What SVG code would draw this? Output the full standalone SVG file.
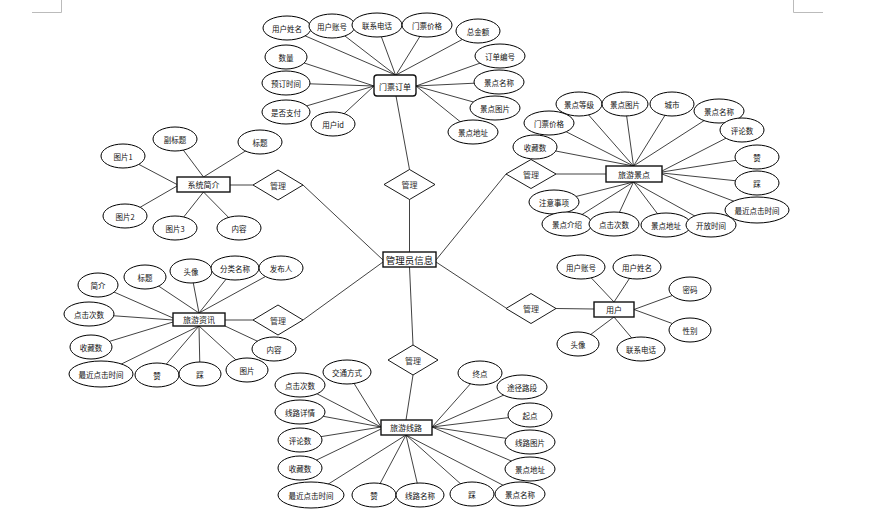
<svg xmlns="http://www.w3.org/2000/svg" width="875" height="514" viewBox="0 0 875 514">
<style>
text{font-family:"Noto Sans CJK SC","Noto Sans",sans-serif;fill:#111;text-anchor:middle;dominant-baseline:central}
.a ellipse{fill:#fff;stroke:#000;stroke-width:1}
.a text{font-size:7.5px}
.e rect{fill:#fff;stroke:#111;stroke-width:1.4}
.e text{font-size:8px}
.r polygon{fill:#fff;stroke:#000;stroke-width:0.9}
.r text{font-size:8px;fill:#333}
#conn line{stroke:#111;stroke-width:0.8}
.pg{stroke:#bbb;stroke-width:1;fill:none}
</style>
<rect width="875" height="514" fill="#fff"/>
<path class="pg" d="M32,12.5H61.5V0M793.5,0V12.5H823"/>
<g id="conn">
<line x1="287" y1="28" x2="395.5" y2="75"/><line x1="332" y1="26" x2="395.5" y2="75"/><line x1="377" y1="25" x2="395.5" y2="75"/><line x1="427" y1="25" x2="396" y2="75"/><line x1="478" y1="31" x2="396" y2="75"/>
<line x1="286" y1="57" x2="374" y2="86"/><line x1="286" y1="83" x2="374" y2="86"/><line x1="286" y1="112" x2="374" y2="86"/><line x1="333" y1="124" x2="374" y2="86"/>
<line x1="500" y1="56" x2="416" y2="86"/><line x1="499" y1="82" x2="416" y2="86"/><line x1="495" y1="108" x2="416" y2="86"/><line x1="473" y1="132" x2="416" y2="86"/>
<line x1="396" y1="96" x2="409.5" y2="169.5"/><line x1="409.5" y1="199.5" x2="409.5" y2="252"/>
<line x1="579" y1="104" x2="633.5" y2="166"/><line x1="625" y1="104" x2="633.5" y2="166"/><line x1="672" y1="104" x2="633.5" y2="166"/><line x1="719" y1="111" x2="633.5" y2="166"/><line x1="549" y1="123" x2="633.5" y2="166"/><line x1="535" y1="147" x2="633.5" y2="166"/>
<line x1="742" y1="130" x2="662" y2="171"/><line x1="757" y1="157" x2="662" y2="172"/><line x1="757" y1="183" x2="662" y2="173"/><line x1="757" y1="210" x2="662" y2="174"/>
<line x1="554" y1="202" x2="633.5" y2="182"/><line x1="567" y1="224" x2="633.5" y2="182"/><line x1="614" y1="224" x2="633.5" y2="182"/><line x1="666" y1="225" x2="633.5" y2="182"/><line x1="711" y1="225" x2="633.5" y2="182"/>
<line x1="556" y1="174" x2="606" y2="174"/><line x1="436" y1="260" x2="506" y2="174"/>
<line x1="175" y1="139" x2="203.5" y2="177"/><line x1="260" y1="142" x2="203.5" y2="177"/><line x1="123" y1="156" x2="177" y2="184.5"/><line x1="125" y1="216" x2="177" y2="186"/><line x1="175" y1="228" x2="203.5" y2="192"/><line x1="239" y1="228" x2="203.5" y2="192"/>
<line x1="230" y1="185" x2="253" y2="185"/><line x1="303" y1="185" x2="383" y2="260"/>
<line x1="98" y1="285" x2="173" y2="318"/><line x1="89" y1="314" x2="173" y2="320"/><line x1="91" y1="347" x2="173" y2="322"/>
<line x1="145" y1="277" x2="199" y2="313"/><line x1="191" y1="271" x2="199" y2="313"/><line x1="235" y1="268" x2="199" y2="313"/><line x1="281" y1="268" x2="199" y2="313"/>
<line x1="101" y1="374" x2="199" y2="326"/><line x1="157" y1="375" x2="199" y2="326"/><line x1="200" y1="374" x2="199" y2="326"/><line x1="247" y1="370" x2="199" y2="326"/><line x1="274" y1="349" x2="225" y2="326"/>
<line x1="225" y1="320" x2="253" y2="320"/><line x1="303" y1="320" x2="383" y2="262"/>
<line x1="581" y1="267" x2="614" y2="302"/><line x1="637" y1="267" x2="614" y2="302"/><line x1="690" y1="289" x2="634" y2="309.5"/><line x1="690" y1="330" x2="634" y2="309.5"/><line x1="578" y1="344" x2="614" y2="317"/><line x1="641" y1="349" x2="614" y2="317"/>
<line x1="556" y1="308.5" x2="594" y2="309"/><line x1="436" y1="262" x2="506" y2="308"/>
<line x1="347" y1="372" x2="381" y2="427"/><line x1="300" y1="385" x2="381" y2="427"/><line x1="300" y1="412" x2="381" y2="427"/><line x1="300" y1="440" x2="381" y2="427"/><line x1="300" y1="468" x2="381" y2="429"/>
<line x1="311" y1="495" x2="406" y2="435"/><line x1="374" y1="495" x2="406" y2="435"/><line x1="420" y1="495" x2="406" y2="435"/><line x1="472" y1="494" x2="406" y2="435"/><line x1="520" y1="494" x2="406" y2="435"/>
<line x1="480" y1="373" x2="432" y2="427"/><line x1="522" y1="387" x2="432" y2="427"/><line x1="530" y1="415" x2="432" y2="427"/><line x1="530" y1="442" x2="432" y2="427"/><line x1="530" y1="469" x2="432" y2="427"/>
<line x1="409.5" y1="267" x2="413" y2="345"/><line x1="413" y1="375" x2="406" y2="420"/>
</g>
<g id="rel-order" class="r"><polygon points="409.5,169.5 435,184.5 409.5,199.5 384,184.5"/><text x="409.5" y="184.5">管理</text></g>
<g id="rel-spot" class="r"><polygon points="531,159.5 556,174 531,188.5 506,174"/><text x="531" y="174">管理</text></g>
<g id="rel-intro" class="r"><polygon points="278,170 303,185 278,200 253,185"/><text x="278" y="185">管理</text></g>
<g id="rel-news" class="r"><polygon points="278,305 303,320 278,335 253,320"/><text x="278" y="320">管理</text></g>
<g id="rel-user" class="r"><polygon points="531,293.5 556,308.5 531,323.5 506,308.5"/><text x="531" y="308.5">管理</text></g>
<g id="rel-route" class="r"><polygon points="413,345 438,360 413,375 388,360"/><text x="413" y="360">管理</text></g>
<g id="admin" class="e"><rect x="383" y="252" width="53" height="15"/><text x="409.5" y="260" style="font-size:9.5px">管理员信息</text></g>
<g id="order" class="e"><rect x="374" y="75" width="42" height="21" rx="3"/><text x="395" y="86">门票订单</text></g>
<g id="spot" class="e"><rect x="606" y="166" width="56" height="16"/><text x="634" y="174">旅游景点</text></g>
<g id="intro" class="e"><rect x="177" y="177" width="53" height="15"/><text x="203.5" y="184.5">系统简介</text></g>
<g id="news" class="e"><rect x="173" y="313" width="52" height="13"/><text x="199" y="319.5">旅游资讯</text></g>
<g id="user" class="e"><rect x="594" y="302" width="40" height="15"/><text x="614" y="309.5">用户</text></g>
<g id="route" class="e"><rect x="381" y="420" width="51" height="15"/><text x="406" y="427.5">旅游线路</text></g>
<g id="o-name" class="a"><ellipse cx="287" cy="28" rx="24" ry="12"/><text x="287" y="28">用户姓名</text></g>
<g id="o-acct" class="a"><ellipse cx="332" cy="26" rx="23" ry="12"/><text x="332" y="26">用户账号</text></g>
<g id="o-tel" class="a"><ellipse cx="377" cy="25" rx="25" ry="12"/><text x="377" y="25">联系电话</text></g>
<g id="o-price" class="a"><ellipse cx="427" cy="25" rx="25" ry="12"/><text x="427" y="25">门票价格</text></g>
<g id="o-total" class="a"><ellipse cx="478" cy="31" rx="22" ry="12"/><text x="478" y="31">总金额</text></g>
<g id="o-qty" class="a"><ellipse cx="286" cy="57" rx="21" ry="12"/><text x="286" y="57">数量</text></g>
<g id="o-time" class="a"><ellipse cx="286" cy="83" rx="24" ry="12"/><text x="286" y="83">预订时间</text></g>
<g id="o-paid" class="a"><ellipse cx="286" cy="112" rx="24" ry="12"/><text x="286" y="112">是否支付</text></g>
<g id="o-uid" class="a"><ellipse cx="333" cy="124" rx="22" ry="12"/><text x="333" y="124">用户id</text></g>
<g id="o-no" class="a"><ellipse cx="500" cy="56" rx="25" ry="12"/><text x="500" y="56">订单编号</text></g>
<g id="o-sname" class="a"><ellipse cx="499" cy="82" rx="25" ry="12"/><text x="499" y="82">景点名称</text></g>
<g id="o-simg" class="a"><ellipse cx="495" cy="108" rx="25" ry="12"/><text x="495" y="108">景点图片</text></g>
<g id="o-saddr" class="a"><ellipse cx="473" cy="132" rx="25" ry="12"/><text x="473" y="132">景点地址</text></g>
<g id="s-level" class="a"><ellipse cx="579" cy="104" rx="23" ry="12"/><text x="579" y="104">景点等级</text></g>
<g id="s-img" class="a"><ellipse cx="625" cy="104" rx="23" ry="12"/><text x="625" y="104">景点图片</text></g>
<g id="s-city" class="a"><ellipse cx="672" cy="104" rx="22" ry="12"/><text x="672" y="104">城市</text></g>
<g id="s-name" class="a"><ellipse cx="719" cy="111" rx="25" ry="12"/><text x="719" y="111">景点名称</text></g>
<g id="s-cmt" class="a"><ellipse cx="742" cy="130" rx="22" ry="12"/><text x="742" y="130">评论数</text></g>
<g id="s-price" class="a"><ellipse cx="549" cy="123" rx="25" ry="12"/><text x="549" y="123">门票价格</text></g>
<g id="s-fav" class="a"><ellipse cx="535" cy="147" rx="22" ry="12"/><text x="535" y="147">收藏数</text></g>
<g id="s-up" class="a"><ellipse cx="757" cy="157" rx="22" ry="12"/><text x="757" y="157">赞</text></g>
<g id="s-down" class="a"><ellipse cx="757" cy="183" rx="22" ry="12"/><text x="757" y="183">踩</text></g>
<g id="s-last" class="a"><ellipse cx="757" cy="210" rx="32" ry="13"/><text x="757" y="210">最近点击时间</text></g>
<g id="s-note" class="a"><ellipse cx="554" cy="202" rx="25" ry="12"/><text x="554" y="202">注意事项</text></g>
<g id="s-desc" class="a"><ellipse cx="567" cy="224" rx="25" ry="12"/><text x="567" y="224">景点介绍</text></g>
<g id="s-click" class="a"><ellipse cx="614" cy="224" rx="25" ry="12"/><text x="614" y="224">点击次数</text></g>
<g id="s-addr" class="a"><ellipse cx="666" cy="225" rx="25" ry="12"/><text x="666" y="225">景点地址</text></g>
<g id="s-open" class="a"><ellipse cx="711" cy="225" rx="25" ry="12"/><text x="711" y="225">开放时间</text></g>
<g id="i-sub" class="a"><ellipse cx="175" cy="139" rx="22" ry="12"/><text x="175" y="139">副标题</text></g>
<g id="i-title" class="a"><ellipse cx="260" cy="142" rx="22" ry="12"/><text x="260" y="142">标题</text></g>
<g id="i-p1" class="a"><ellipse cx="123" cy="156" rx="22" ry="12"/><text x="123" y="156">图片1</text></g>
<g id="i-p2" class="a"><ellipse cx="125" cy="216" rx="22" ry="12"/><text x="125" y="216">图片2</text></g>
<g id="i-p3" class="a"><ellipse cx="175" cy="228" rx="22" ry="12"/><text x="175" y="228">图片3</text></g>
<g id="i-cont" class="a"><ellipse cx="239" cy="228" rx="22" ry="12"/><text x="239" y="228">内容</text></g>
<g id="n-brief" class="a"><ellipse cx="98" cy="285" rx="20" ry="12"/><text x="98" y="285">简介</text></g>
<g id="n-title" class="a"><ellipse cx="145" cy="277" rx="21" ry="12"/><text x="145" y="277">标题</text></g>
<g id="n-avatar" class="a"><ellipse cx="191" cy="271" rx="21" ry="12"/><text x="191" y="271">头像</text></g>
<g id="n-cat" class="a"><ellipse cx="235" cy="268" rx="24" ry="12"/><text x="235" y="268">分类名称</text></g>
<g id="n-pub" class="a"><ellipse cx="281" cy="268" rx="22" ry="12"/><text x="281" y="268">发布人</text></g>
<g id="n-click" class="a"><ellipse cx="89" cy="314" rx="25" ry="12"/><text x="89" y="314">点击次数</text></g>
<g id="n-fav" class="a"><ellipse cx="91" cy="347" rx="21" ry="12"/><text x="91" y="347">收藏数</text></g>
<g id="n-cont" class="a"><ellipse cx="274" cy="349" rx="22" ry="12"/><text x="274" y="349">内容</text></g>
<g id="n-last" class="a"><ellipse cx="101" cy="374" rx="32" ry="13"/><text x="101" y="374">最近点击时间</text></g>
<g id="n-up" class="a"><ellipse cx="157" cy="375" rx="22" ry="12"/><text x="157" y="375">赞</text></g>
<g id="n-down" class="a"><ellipse cx="200" cy="374" rx="21" ry="12"/><text x="200" y="374">踩</text></g>
<g id="n-img" class="a"><ellipse cx="247" cy="370" rx="21" ry="12"/><text x="247" y="370">图片</text></g>
<g id="u-acct" class="a"><ellipse cx="581" cy="267" rx="24" ry="12"/><text x="581" y="267">用户账号</text></g>
<g id="u-name" class="a"><ellipse cx="637" cy="267" rx="24" ry="12"/><text x="637" y="267">用户姓名</text></g>
<g id="u-pwd" class="a"><ellipse cx="690" cy="289" rx="21" ry="12"/><text x="690" y="289">密码</text></g>
<g id="u-sex" class="a"><ellipse cx="690" cy="330" rx="21" ry="12"/><text x="690" y="330">性别</text></g>
<g id="u-avatar" class="a"><ellipse cx="578" cy="344" rx="21" ry="12"/><text x="578" y="344">头像</text></g>
<g id="u-tel" class="a"><ellipse cx="641" cy="349" rx="24" ry="12"/><text x="641" y="349">联系电话</text></g>
<g id="r-traffic" class="a"><ellipse cx="347" cy="372" rx="24" ry="12"/><text x="347" y="372">交通方式</text></g>
<g id="r-click" class="a"><ellipse cx="300" cy="385" rx="25" ry="12"/><text x="300" y="385">点击次数</text></g>
<g id="r-detail" class="a"><ellipse cx="300" cy="412" rx="25" ry="12"/><text x="300" y="412">线路详情</text></g>
<g id="r-cmt" class="a"><ellipse cx="300" cy="440" rx="22" ry="12"/><text x="300" y="440">评论数</text></g>
<g id="r-fav" class="a"><ellipse cx="300" cy="468" rx="22" ry="12"/><text x="300" y="468">收藏数</text></g>
<g id="r-last" class="a"><ellipse cx="311" cy="495" rx="33" ry="13"/><text x="311" y="495">最近点击时间</text></g>
<g id="r-up" class="a"><ellipse cx="374" cy="495" rx="22" ry="12"/><text x="374" y="495">赞</text></g>
<g id="r-name" class="a"><ellipse cx="420" cy="495" rx="24" ry="12"/><text x="420" y="495">线路名称</text></g>
<g id="r-down" class="a"><ellipse cx="472" cy="494" rx="22" ry="12"/><text x="472" y="494">踩</text></g>
<g id="r-sname" class="a"><ellipse cx="520" cy="494" rx="25" ry="12"/><text x="520" y="494">景点名称</text></g>
<g id="r-end" class="a"><ellipse cx="480" cy="373" rx="22" ry="12"/><text x="480" y="373">终点</text></g>
<g id="r-via" class="a"><ellipse cx="522" cy="387" rx="25" ry="12"/><text x="522" y="387">途径路段</text></g>
<g id="r-start" class="a"><ellipse cx="530" cy="415" rx="22" ry="12"/><text x="530" y="415">起点</text></g>
<g id="r-img" class="a"><ellipse cx="530" cy="442" rx="25" ry="12"/><text x="530" y="442">线路图片</text></g>
<g id="r-addr" class="a"><ellipse cx="530" cy="469" rx="25" ry="12"/><text x="530" y="469">景点地址</text></g>
</svg>
